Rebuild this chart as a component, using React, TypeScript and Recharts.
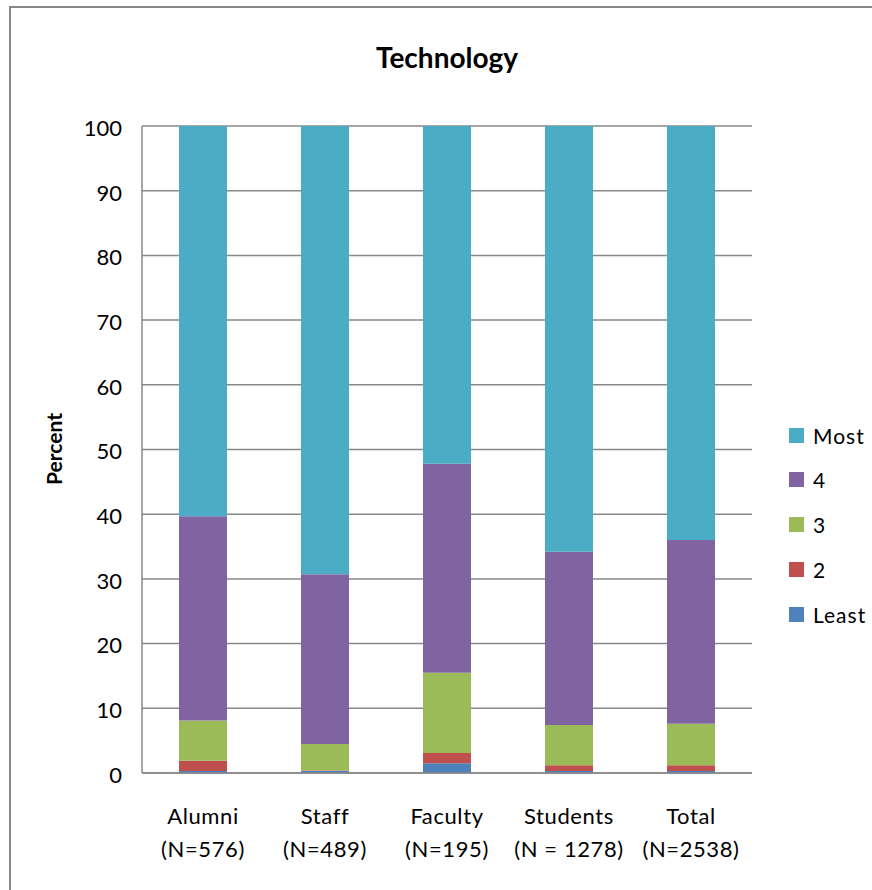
import { Bar, BarChart, CartesianGrid, XAxis, YAxis } from "recharts";

const categories = ["Alumni", "Staff", "Faculty", "Students", "Total"];
const counts = ["(N=576)", "(N=489)", "(N=195)", "(N = 1278)", "(N=2538)"];

// stacked from the bottom up
const least = [0.3, 0.3, 1.5, 0.3, 0.3];
const two = [1.6, 0.1, 1.6, 0.9, 0.9];
const three = [6.2, 4.1, 12.4, 6.2, 6.4];
const four = [31.6, 26.2, 32.3, 26.8, 28.4];
const most = [60.3, 69.3, 52.2, 65.8, 64.0];

const yTicks = [0, 10, 20, 30, 40, 50, 60, 70, 80, 90, 100];

const SERIES = [
  { key: "Least", values: least, color: "#4F81BD" },
  { key: "2", values: two, color: "#C0504D" },
  { key: "3", values: three, color: "#9BBB59" },
  { key: "4", values: four, color: "#8064A2" },
  { key: "Most", values: most, color: "#4BACC6" },
];

const data = categories.map((name, i) => {
  const row: Record<string, string | number> = { name, count: counts[i] };
  SERIES.forEach((s) => {
    row[s.key] = s.values[i];
  });
  return row;
});

const FONT = "Lato, 'Open Sans', sans-serif";

const CategoryTick = (props: any) => {
  const { x, y, payload, index } = props;
  return (
    <g>
      <text x={x} y={y + 43} textAnchor="middle" fontSize={22} fill="#000" fontFamily={FONT} letterSpacing={0.6}>
        {payload.value}
      </text>
      <text x={x} y={y + 76} textAnchor="middle" fontSize={22} fill="#000" fontFamily={FONT} letterSpacing={0.6}>
        {counts[index]}
      </text>
    </g>
  );
};

const App = () => {
  const legendItems = [...SERIES].reverse();
  return (
    <div
      style={{
        position: "absolute",
        left: 0,
        top: 0,
        width: 872,
        height: 890,
        background: "#fff",
        fontFamily: FONT,
      }}
    >
      <div
        style={{
          position: "absolute",
          left: 9,
          top: 6,
          width: 880,
          height: 900,
          borderLeft: "2px solid #888",
          borderTop: "2px solid #888",
        }}
      />
      <div
        style={{
          position: "absolute",
          left: 0,
          width: 894,
          top: 39,
          textAlign: "center",
          fontSize: 28,
          fontWeight: "bold",
          lineHeight: "36px",
        }}
      >
        Technology
      </div>
      <div
        style={{
          position: "absolute",
          left: 53,
          top: 449,
          transform: "translate(-50%, -50%) rotate(-90deg)",
          fontSize: 21,
          fontWeight: "bold",
          whiteSpace: "nowrap",
        }}
      >
        Percent
      </div>
      <div style={{ position: "absolute", left: 0, top: 0 }}>
        <BarChart
          width={872}
          height={890}
          data={data}
          margin={{ top: 126, right: 120, bottom: 0, left: 0 }}
          barSize={48}
        >
          <CartesianGrid vertical={false} stroke="#888" strokeWidth={1.5} />
          <XAxis
            dataKey="name"
            axisLine={{ stroke: "#888", strokeWidth: 1.5 }}
            tickLine={false}
            tick={<CategoryTick />}
            height={117}
            interval={0}
          />
          <YAxis
            width={142}
            domain={[0, 100]}
            ticks={yTicks}
            axisLine={{ stroke: "#888", strokeWidth: 1.5 }}
            tickLine={false}
            tickSize={0}
            tickMargin={20}
            tick={{ fontSize: 22, fill: "#000", fontFamily: FONT, dy: 2 }}
          />
          {SERIES.map((s) => (
            <Bar key={s.key} dataKey={s.key} stackId="a" fill={s.color} isAnimationActive={false} />
          ))}
        </BarChart>
      </div>
      {legendItems.map((s, i) => (
        <div
          key={s.key}
          style={{
            position: "absolute",
            left: 789,
            top: 435 + i * 44.8 - 17,
            height: 34,
            display: "flex",
            alignItems: "center",
            fontSize: 21,
            letterSpacing: 1,
          }}
        >
          <span
            style={{
              display: "inline-block",
              width: 15,
              height: 15,
              background: s.color,
              marginRight: 9,
            }}
          />
          {s.key}
        </div>
      ))}
    </div>
  );
};

export default App;
